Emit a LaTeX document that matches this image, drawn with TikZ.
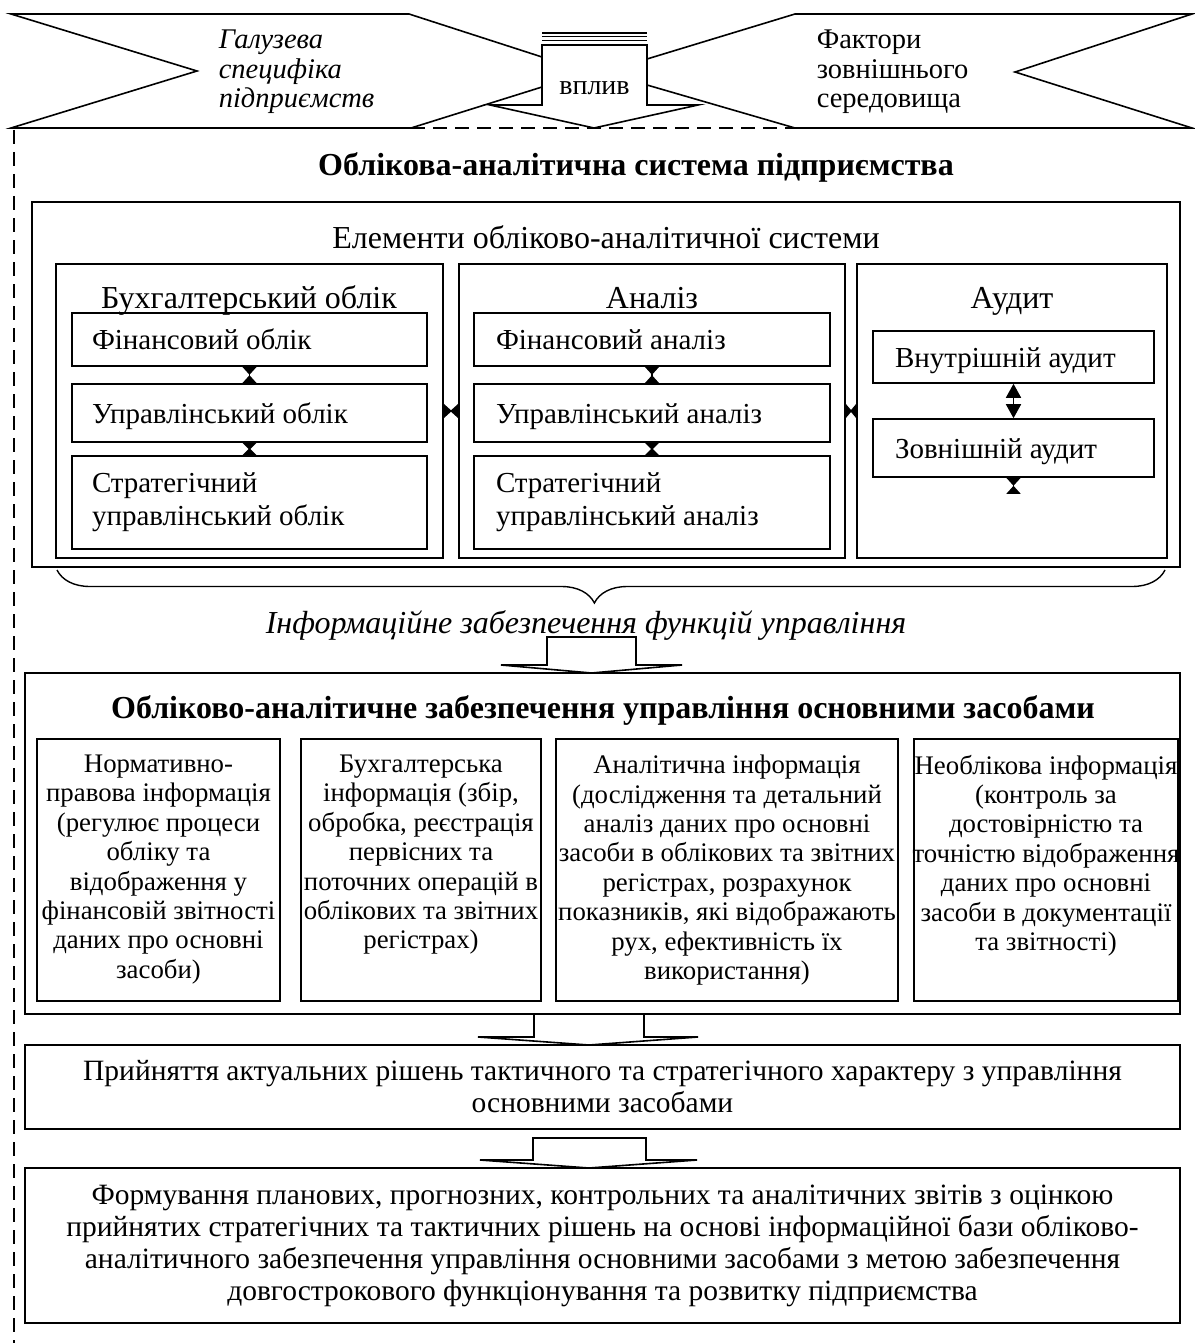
\documentclass[tikz,border=0pt]{standalone}
\usepackage{fontspec}
\setmainfont{Liberation Serif}
\usetikzlibrary{arrows.meta,decorations.pathreplacing,calc,fit}
\begin{document}
\begin{tikzpicture}[x=1pt,y=-1pt,line width=1.6pt,line join=miter,
  box/.style={draw,inner sep=0pt,fit={#1}},
  tb/.style={font=\fontsize{29}{33}\selectfont,inner sep=0pt},
  tt/.style={font=\fontsize{32}{36}\selectfont,inner sep=0pt,anchor=base},
  tw/.style={font=\fontsize{29.5}{32}\selectfont,inner sep=0pt,align=center},
  ts/.style={font=\fontsize{26.8}{29.4}\selectfont,inner sep=0pt,align=center},
  hb/.style={font=\bfseries\fontsize{32}{36}\selectfont,inner sep=0pt,anchor=base},
  hg/.style={{Triangle[reversed,length=#1,width=14]}-{Triangle[reversed,length=#1,width=14]}},
  dbl/.style={{Triangle[length=14,width=15]}-{Triangle[length=14,width=15]}},
  hollow/.style={draw,fill=white,line width=1.6pt},
  dashline/.style={dash pattern=on 14pt off 8pt,line width=1.4pt}]
\useasboundingbox (0,0) rectangle (1194,1343);

% ---------- top banners ----------
\coordinate (bl) at (11,128);
\coordinate (br) at (1192,128);
\draw (542,87) -- (411,128) -- (bl) -- (197,71) -- (11,14) -- (409,14) -- (542,57);
\draw (647,85) -- (795,128) -- (br) -- (1015,72) -- (1192,14) -- (795,14) -- (647,59);
\draw[dashline] (411,128) -- (795,128);
\draw[dashline] (14,130) -- (14,1343);
% influence arrow
\draw[line width=1.2pt] (542,33) -- (647,33) (542,36.5) -- (647,36.5) (542,40.5) -- (647,40.5);
\draw[hollow] (542,45) -- (647,45) -- (647,105) -- (698,105) -- (594,128) -- (490,105) -- (542,105) -- cycle;
\node[font=\fontsize{28}{30}\selectfont,inner sep=0pt,anchor=base] (vpl) at (594.5,95) {вплив};
\node[font=\itshape\fontsize{28.5}{29.5}\selectfont,inner sep=0pt,align=left,anchor=west] (gal) at (218,72) {Галузева\\специфіка\\підприємств};
\node[font=\fontsize{28.5}{29.5}\selectfont,inner sep=0pt,align=left,anchor=west] (fak) at (816,72) {Фактори\\зовнішнього\\середовища};

% ---------- accounting-analytical system ----------
\node[hb] (h1) at (636,176) {Облікова-аналітична система підприємства};
\node[box={(32,202) (1180,567)}] (sys) {};
\node[tt] (elem) at (606,248) {Елементи обліково-аналітичної системи};

\node[box={(56,264) (443,558)}] (c1) {};
\node[box={(459,264) (845,558)}] (c2) {};
\node[box={(857,264) (1167,558)}] (c3) {};
\node[tt] (c1t) at (249,308) {Бухгалтерський облік};
\node[tt] (c2t) at (652,308) {Аналіз};
\node[tt] (c3t) at (1012,308) {Аудит};

\node[box={(72,313) (427,366)}] (a1) {};
\node[box={(72,384) (427,442)}] (a2) {};
\node[box={(72,456) (427,549)}] (a3) {};
\node[tb,anchor=base west] at ($(a1.west)+(20,10)$) {Фінансовий облік};
\node[tb,anchor=base west] at ($(a2.west)+(20,10)$) {Управлінський облік};
\node[tb,align=left,anchor=west] at ($(a3.west)+(20,0)$) {Стратегічний\\управлінський облік};

\node[box={(474,313) (830,366)}] (n1) {};
\node[box={(474,384) (830,442)}] (n2) {};
\node[box={(474,456) (830,549)}] (n3) {};
\node[tb,anchor=base west] at ($(n1.west)+(22,10)$) {Фінансовий аналіз};
\node[tb,anchor=base west] at ($(n2.west)+(22,10)$) {Управлінський аналіз};
\node[tb,align=left,anchor=west] at ($(n3.west)+(22,0)$) {Стратегічний\\управлінський аналіз};

\node[box={(873,331) (1154,383)}] (vn) {};
\node[box={(873,419) (1154,477)}] (zn) {};
\node[tb,anchor=base west] at ($(vn.west)+(22,10)$) {Внутрішній аудит};
\node[tb,anchor=base west] at ($(zn.west)+(22,10)$) {Зовнішній аудит};

\draw[hg=8] (a1.south) -- (a2.north);
\draw[hg=7] (a2.south) -- (a3.north);
\draw[hg=8] (n1.south) -- (n2.north);
\draw[hg=7] (n2.south) -- (n3.north);
\draw[hg=8] (c1.east) -- (c2.west);
\draw[hg=6] (c2.east) -- (c3.west);
\draw[dbl] (vn.south) -- (zn.north);
\coordinate (zd) at ($(zn.south)+(0,16)$);
\draw[hg=8] (zn.south) -- (zd);

% brace and label
\coordinate (brL) at (57,570);
\coordinate (brR) at (1165,570);
\draw[decorate,decoration={brace,mirror,amplitude=33pt,aspect=0.485},line width=1.4pt] (brL) -- (brR);
\node[tt,font=\itshape\fontsize{32}{36}\selectfont] (info) at (586,633) {Інформаційне забезпечення функцій управління};

\draw[hollow] (547,637) -- (636,637) -- (636,665) -- (682,665) -- (591.5,673) -- (501,665) -- (547,665) -- cycle;

% ---------- support block ----------
\node[box={(25,673) (1180,1014)}] (sup) {};
\node[hb] (h2) at (603,718) {Обліково-аналітичне забезпечення управління основними засобами};
\node[box={(37,739) (280,1001)}] (s1) {};
\node[box={(301,739) (541,1001)}] (s2) {};
\node[box={(556,739) (898,1001)}] (s3) {};
\node[box={(914,739) (1178,1001)}] (s4) {};
\node[ts,anchor=north] at ($(s1.north)+(0,16)$) {Нормативно-\\правова інформація\\(регулює процеси\\обліку та\\відображення у\\фінансовій звітності\\даних про основні\\засоби)};
\node[ts,anchor=north] at ($(s2.north)+(0,16)$) {Бухгалтерська\\інформація (збір,\\обробка, реєстрація\\первісних та\\поточних операцій в\\облікових та звітних\\регістрах)};
\node[ts,anchor=north] at ($(s3.north)+(0,16)$) {Аналітична інформація\\(дослідження та детальний\\аналіз даних про основні\\засоби в облікових та звітних\\регістрах, розрахунок\\показників, які відображають\\рух, ефективність їх\\використання)};
\node[ts,anchor=north] at ($(s4.north)+(0,16)$) {Необлікова інформація\\(контроль за\\достовірністю та\\точністю відображення\\даних про основні\\засоби в документації\\та звітності)};

\draw[hollow] (534,1014) -- (644,1014) -- (644,1037) -- (698,1037) -- (589,1045) -- (478,1037) -- (534,1037) -- cycle;

\node[box={(25,1045) (1180,1129)}] (dec) {};
\node[tw] at (dec.center) {Прийняття актуальних рішень тактичного та стратегічного характеру з управління\\основними засобами};

\draw[hollow] (533,1138) -- (646,1138) -- (646,1160) -- (697,1160) -- (589,1168) -- (480,1160) -- (533,1160) -- cycle;

\node[box={(25,1168) (1180,1323)}] (rep) {};
\node[tw] at (rep.center) {Формування планових, прогнозних, контрольних та аналітичних звітів з оцінкою\\прийнятих стратегічних та тактичних рішень на основі інформаційної бази обліково-\\аналітичного забезпечення управління основними засобами з метою забезпечення\\довгострокового функціонування та розвитку підприємства};
\end{tikzpicture}
\end{document}
